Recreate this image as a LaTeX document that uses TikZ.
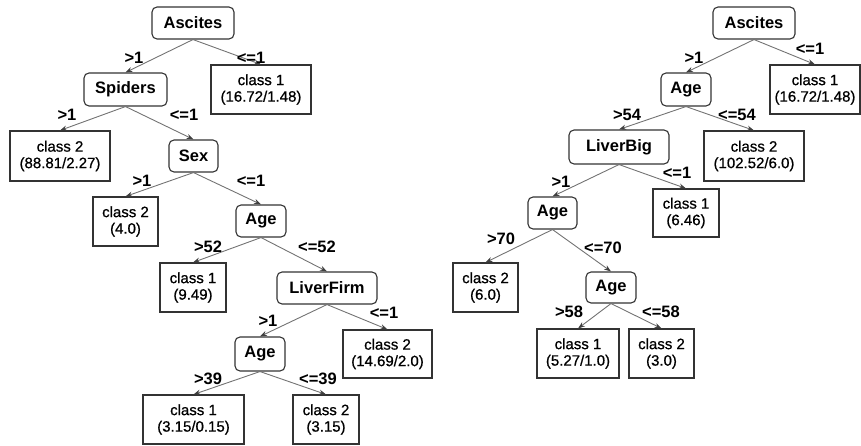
\documentclass[tikz,border=0pt]{standalone}
\usepackage{fontspec}
\setmainfont{Liberation Sans}
\newfontfamily\leaffont{Liberation Sans}[FakeBold=0.7]
\usetikzlibrary{arrows.meta}
\begin{document}
\begin{tikzpicture}[x=1pt,y=-1pt,
  dec/.style={draw=black!80, line width=1.1pt, rounded corners=5pt, fill=white, inner sep=0pt,
    font=\fontsize{16.5}{18}\selectfont\bfseries},
  leaf/.style={draw=black!80, line width=1.1pt, fill=white, inner sep=0pt, align=center,
    font=\leaffont\fontsize{15}{16.5}\selectfont},
  edge/.style={draw=black!55, line width=0.9pt, -{Stealth[length=7pt,width=5pt,color=black!75]}},
  lab/.style={font=\fontsize{16.5}{18}\selectfont\bfseries, inner sep=0pt}]
\useasboundingbox (0,0) rectangle (861,446);
% ---- left tree ----
\node[dec, minimum width=82pt, minimum height=32pt] (a1) at (193,23) {Ascites};
\node[dec, minimum width=83pt, minimum height=33pt] (s1) at (125.5,89.5) {Spiders};
\node[leaf, minimum width=100pt, minimum height=49pt] (l1a) at (261,89.5) {class 1\\(16.72/1.48)};
\node[leaf, minimum width=100pt, minimum height=50pt] (l1b) at (60,156) {class 2\\(88.81/2.27)};
\node[dec, minimum width=49pt, minimum height=32pt] (sex) at (193.5,156) {Sex};
\node[leaf, minimum width=65pt, minimum height=49pt] (l2) at (125.5,221.5) {class 2\\(4.0)};
\node[dec, minimum width=50pt, minimum height=32pt] (age1) at (261,221) {Age};
\node[leaf, minimum width=66pt, minimum height=49pt] (l3) at (193,287.5) {class 1\\(9.49)};
\node[dec, minimum width=100pt, minimum height=32pt] (lf) at (327,288) {LiverFirm};
\node[dec, minimum width=50pt, minimum height=34pt] (age2) at (260,354) {Age};
\node[leaf, minimum width=89pt, minimum height=48pt] (l4) at (387.5,354) {class 2\\(14.69/2.0)};
\node[leaf, minimum width=101pt, minimum height=49pt] (l5) at (193.5,419.5) {class 1\\(3.15/0.15)};
\node[leaf, minimum width=66pt, minimum height=49pt] (l6) at (326,419.5) {class 2\\(3.15)};
\draw[edge] (a1.south) -- (s1.north);
\draw[edge] (a1.south) -- (l1a.north);
\draw[edge] (s1.south) -- (l1b.north);
\draw[edge] (s1.south) -- (sex.north);
\draw[edge] (sex.south) -- (l2.north);
\draw[edge] (sex.south) -- (age1.north);
\draw[edge] (age1.south) -- (l3.north);
\draw[edge] (age1.south) -- (lf.north);
\draw[edge] (lf.south) -- (age2.north);
\draw[edge] (lf.south) -- (l4.north);
\draw[edge] (age2.south) -- (l5.north);
\draw[edge] (age2.south) -- (l6.north);
\node[lab] (t1) at (134,58) {>1};
\node[lab] (t2) at (251,58) {<=1};
\node[lab] (t3) at (67,115) {>1};
\node[lab] (t4) at (184,115) {<=1};
\node[lab] (t5) at (142,181) {>1};
\node[lab] (t6) at (251,181) {<=1};
\node[lab] (t7) at (208,247) {>52};
\node[lab] (t8) at (317,247) {<=52};
\node[lab] (t9) at (268,321) {>1};
\node[lab] (t10) at (384,313) {<=1};
\node[lab] (t11) at (208,379) {>39};
\node[lab] (t12) at (318,379) {<=39};
% ---- right tree ----
\node[dec, minimum width=82pt, minimum height=32pt] (a2) at (754,23) {Ascites};
\node[dec, minimum width=50pt, minimum height=33pt] (age3) at (686,89.5) {Age};
\node[leaf, minimum width=90pt, minimum height=49pt] (r1) at (815,89.5) {class 1\\(16.72/1.48)};
\node[dec, minimum width=100pt, minimum height=34pt] (lb) at (619,147) {LiverBig};
\node[leaf, minimum width=100pt, minimum height=50pt] (r2) at (754,156) {class 2\\(102.52/6.0)};
\node[dec, minimum width=49pt, minimum height=32pt] (age4) at (552.5,213) {Age};
\node[leaf, minimum width=66pt, minimum height=48pt] (r3) at (686,213) {class 1\\(6.46)};
\node[leaf, minimum width=65pt, minimum height=49pt] (r4) at (485.5,287.5) {class 2\\(6.0)};
\node[dec, minimum width=50pt, minimum height=31pt] (age5) at (611,287.5) {Age};
\node[leaf, minimum width=82pt, minimum height=49pt] (r5) at (578,353.5) {class 1\\(5.27/1.0)};
\node[leaf, minimum width=65pt, minimum height=49pt] (r6) at (661.5,353.5) {class 2\\(3.0)};
\draw[edge] (a2.south) -- (age3.north);
\draw[edge] (a2.south) -- (r1.north);
\draw[edge] (age3.south) -- (lb.north);
\draw[edge] (age3.south) -- (r2.north);
\draw[edge] (lb.south) -- (age4.north);
\draw[edge] (lb.south) -- (r3.north);
\draw[edge] (age4.south) -- (r4.north);
\draw[edge] (age4.south) -- (age5.north);
\draw[edge] (age5.south) -- (r5.north);
\draw[edge] (age5.south) -- (r6.north);
\node[lab] (u1) at (694,58) {>1};
\node[lab] (u2) at (810,49) {<=1};
\node[lab] (u3) at (627,115) {>54};
\node[lab] (u4) at (737,115) {<=54};
\node[lab] (u5) at (561,182) {>1};
\node[lab] (u6) at (677,173) {<=1};
\node[lab] (u7) at (501,239) {>70};
\node[lab] (u8) at (603,248) {<=70};
\node[lab] (u9) at (569,312) {>58};
\node[lab] (u10) at (661,312) {<=58};
\end{tikzpicture}
\end{document}
